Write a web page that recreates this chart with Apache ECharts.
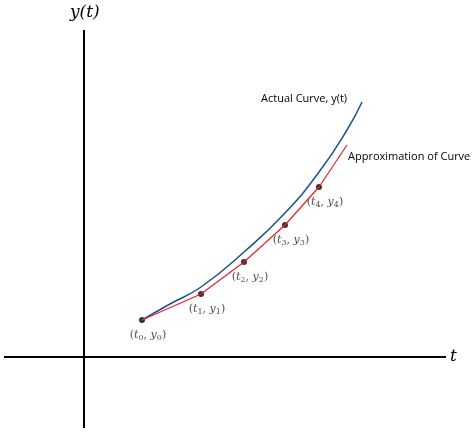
<!DOCTYPE html>
<html>
<head>
<meta charset="utf-8" />
<title>Euler approximation</title>
<script src="https://cdn.jsdelivr.net/npm/echarts@6/dist/echarts.min.js"></script>
<style>html,body{margin:0;padding:0;background:#fff}#chart{width:474px;height:434px}</style>
</head>
<body>
<div id="chart"></div>
<script>
// coordinates in a 474 x 434 frame, y measured upward from the bottom
var axisX = [[4, 77], [446, 77]];
var axisY = [[84, 6], [84, 404]];
var actualCurve = [[142, 114], [170, 130], [201, 147], [244, 182], [285, 221], [319, 262], [347, 304], [362, 332]];
var approxCurve = [[142, 114], [201, 140], [244, 172], [285, 209], [319, 247], [347, 289]];
var steps = [[142, 114], [201, 140], [244, 172], [285, 209], [319, 247]];
var stepLabels = ['0', '1', '2', '3', '4'];

var chart = echarts.init(document.getElementById('chart'));
var serif = 'DejaVu Serif';
chart.setOption({
	animation: false,
	grid: { left: 0, right: 0, top: 0, bottom: 0 },
	xAxis: { type: 'value', min: 0, max: 474, show: false },
	yAxis: { type: 'value', min: 0, max: 434, show: false },
	series: [
		{ type: 'line', data: axisX, symbol: 'none', lineStyle: { color: '#000', width: 2 } },
		{ type: 'line', data: axisY, symbol: 'none', lineStyle: { color: '#000', width: 2 } },
		{ type: 'line', data: actualCurve, smooth: true, symbol: 'none', lineStyle: { color: '#1f4e8c', width: 1.5 } },
		{ type: 'line', data: approxCurve, symbol: 'none', lineStyle: { color: '#ee1c25', width: 1.2 } },
		{
			type: 'scatter', data: steps, symbolSize: 6, itemStyle: { color: '#000' },
			label: {
				show: true, position: 'bottom', offset: [6, 0],
				formatter: function (p) {
					var k = stepLabels[p.dataIndex];
					return '{n|(}{i|t}{s|' + k + '}{n|, }{i|y}{s|' + k + '}{n|)}';
				},
				rich: {
					n: { fontFamily: serif, fontSize: 11, color: '#222' },
					i: { fontFamily: serif, fontStyle: 'italic', fontSize: 11, color: '#222' },
					s: { fontFamily: serif, fontSize: 8, color: '#222', verticalAlign: 'bottom', padding: [6, 0, 0, 0] }
				}
			}
		}
	],
	graphic: [
		{ type: 'text', left: 70, top: 4, style: { text: 'y(t)', font: 'italic 17px "DejaVu Serif"', fill: '#000' } },
		{ type: 'text', left: 450, top: 348, style: { text: 't', font: 'italic 17px "DejaVu Serif"', fill: '#000' } },
		{ type: 'text', left: 261, top: 93, style: { text: 'Actual Curve, y(t)', font: '11px "Open Sans"', fill: '#000' } },
		{ type: 'text', left: 348, top: 151, style: { text: 'Approximation of Curve', font: '11px "Open Sans"', fill: '#000' } }
	]
});
</script>
</body>
</html>
